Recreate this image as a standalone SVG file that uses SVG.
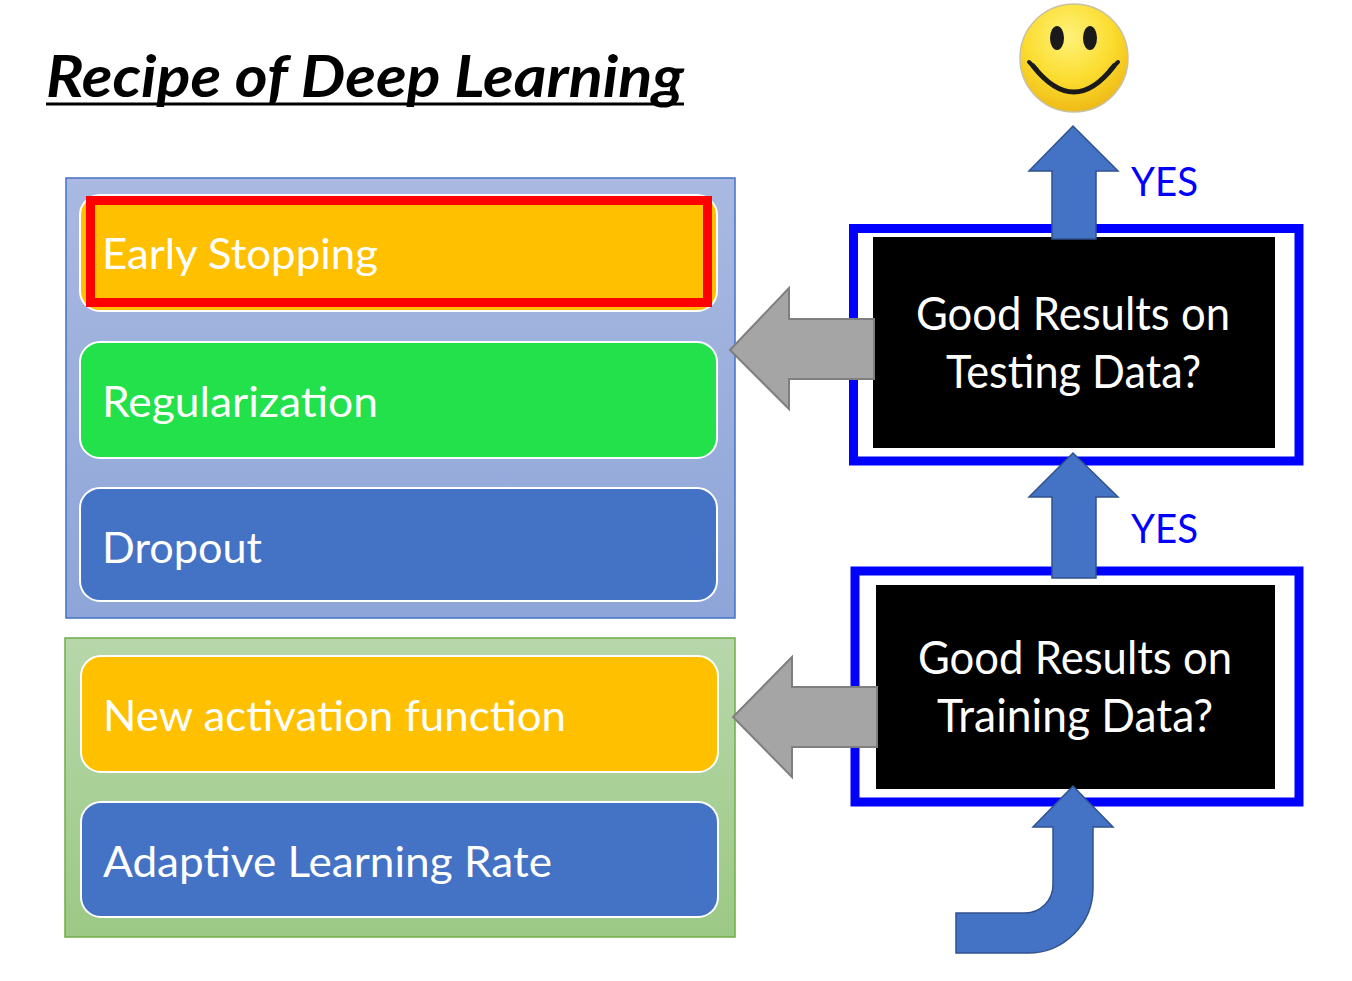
<svg xmlns="http://www.w3.org/2000/svg" width="1352" height="981" viewBox="0 0 1352 981">
  <defs>
    <linearGradient id="gBlue" x1="0" y1="0" x2="0" y2="1">
      <stop offset="0" stop-color="#a9b9e1"/>
      <stop offset="1" stop-color="#8da5d8"/>
    </linearGradient>
    <linearGradient id="gGreen" x1="0" y1="0" x2="0" y2="1">
      <stop offset="0" stop-color="#b7d7aa"/>
      <stop offset="1" stop-color="#9cc985"/>
    </linearGradient>
    <radialGradient id="gSmile" cx="0.45" cy="0.3" r="0.75">
      <stop offset="0" stop-color="#fff27a"/>
      <stop offset="0.55" stop-color="#fbdc2e"/>
      <stop offset="0.9" stop-color="#f0bd18"/>
      <stop offset="1" stop-color="#d9b040"/>
    </radialGradient>
    <style>
      .item { stroke: #ffffff; stroke-width: 2; }
      .itemText { font-family: Lato, "Open Sans", "Liberation Sans", sans-serif; font-size: 42px; fill: #ffffff; }
      .qText { font-family: Lato, "Open Sans", "Liberation Sans", sans-serif; font-size: 46px; fill: #ffffff; text-anchor: middle; }
      .yes { font-family: Lato, "Open Sans", "Liberation Sans", sans-serif; font-size: 40px; fill: #0000ff; }
      .frame { fill: #ffffff; stroke: #0000ff; stroke-width: 9; }
      .upArrow { fill: #4472c4; stroke: #2f528f; stroke-width: 1.5; }
      .grayArrow { fill: #a5a5a5; stroke: #7f7f7f; stroke-width: 2; }
    </style>
  </defs>

  <rect width="1352" height="981" fill="#ffffff"/>

  <g id="title">
    <text x="46" y="97" font-family="Lato, 'Open Sans', 'Liberation Sans', sans-serif" font-size="58" font-weight="bold" font-style="italic" fill="#000000" textLength="638" lengthAdjust="spacingAndGlyphs">Recipe of Deep Learning</text>
    <line x1="46" y1="104" x2="684" y2="104" stroke="#000000" stroke-width="3"/>
  </g>

  <g id="panel-testing">
    <rect x="66" y="178" width="669" height="440" fill="url(#gBlue)" stroke="#4472c4" stroke-width="1.5"/>
  </g>

  <g id="early-stopping">
    <rect class="item" x="80" y="195" width="637" height="116" rx="20" fill="#ffc000"/>
    <rect x="90.5" y="200.5" width="617" height="102" fill="none" stroke="#ff0000" stroke-width="9"/>
    <text class="itemText" x="102" y="269" textLength="276" lengthAdjust="spacingAndGlyphs">Early Stopping</text>
  </g>

  <g id="regularization">
    <rect class="item" x="80" y="342" width="637" height="116" rx="20" fill="#22e14a"/>
    <text class="itemText" x="102" y="417" textLength="276" lengthAdjust="spacingAndGlyphs">Regularization</text>
  </g>

  <g id="dropout">
    <rect class="item" x="80" y="488" width="637" height="113" rx="20" fill="#4472c4"/>
    <text class="itemText" x="102" y="563" textLength="160" lengthAdjust="spacingAndGlyphs">Dropout</text>
  </g>

  <g id="panel-training">
    <rect x="65" y="638" width="670" height="299" fill="url(#gGreen)" stroke="#70ad47" stroke-width="1.5"/>
  </g>

  <g id="new-activation">
    <rect class="item" x="81" y="656" width="637" height="116" rx="20" fill="#ffc000"/>
    <text class="itemText" x="103" y="731" textLength="463" lengthAdjust="spacingAndGlyphs">New activation function</text>
  </g>

  <g id="adaptive-lr">
    <rect class="item" x="81" y="802" width="637" height="115" rx="20" fill="#4472c4"/>
    <text class="itemText" x="103" y="877" textLength="449" lengthAdjust="spacingAndGlyphs">Adaptive Learning Rate</text>
  </g>

  <g id="testing-check">
    <rect class="frame" x="853.5" y="228.5" width="445.5" height="232.5"/>
    <rect x="873" y="237" width="402" height="211" fill="#000000"/>
    <text class="qText" x="1073" y="330" textLength="314" lengthAdjust="spacingAndGlyphs">Good Results on</text>
    <text class="qText" x="1073.5" y="388" textLength="255" lengthAdjust="spacingAndGlyphs">Testing Data?</text>
  </g>

  <g id="training-check">
    <rect class="frame" x="855" y="571" width="444" height="231"/>
    <rect x="876" y="585" width="399" height="204" fill="#000000"/>
    <text class="qText" x="1075" y="674" textLength="314" lengthAdjust="spacingAndGlyphs">Good Results on</text>
    <text class="qText" x="1075" y="732" textLength="276" lengthAdjust="spacingAndGlyphs">Training Data?</text>
  </g>

  <g id="smiley">
    <circle cx="1074" cy="58" r="54" fill="url(#gSmile)" stroke="#c9c2a0" stroke-width="1.5"/>
    <ellipse cx="1057" cy="38" rx="7" ry="12" fill="#1a1a1a"/>
    <ellipse cx="1090" cy="38" rx="7" ry="12" fill="#1a1a1a"/>
    <path d="M1033,66 Q1074,118 1114,66" fill="none" stroke="#1a1a1a" stroke-width="5" stroke-linecap="round"/>
    <path d="M1029,62 L1037,70 M1118,62 L1110,70" fill="none" stroke="#1a1a1a" stroke-width="4" stroke-linecap="round"/>
  </g>

  <g id="labels">
    <text class="yes" x="1131" y="196" textLength="67" lengthAdjust="spacingAndGlyphs">YES</text>
    <text class="yes" x="1131" y="543" textLength="67" lengthAdjust="spacingAndGlyphs">YES</text>
  </g>

  <g id="connectors">
    <path class="upArrow" d="M1052,239 L1052,171 L1029,171 L1073,126 L1118,171 L1096,171 L1096,239 Z"/>
    <path class="upArrow" d="M1052,578 L1052,497 L1029,497 L1073,453 L1118,497 L1096,497 L1096,578 Z"/>
    <path class="upArrow" d="M956,913 L1025,913 A28,28 0 0 0 1053,885 L1053,827 L1033,827 L1073,786 L1113,827 L1093,827 L1093,888 A65,65 0 0 1 1028,953 L956,953 Z"/>
    <path class="grayArrow" d="M874,319 L789,319 L789,288 L730,350 L789,409 L789,379 L874,379 Z"/>
    <path class="grayArrow" d="M877,687 L792,687 L792,657 L733,717 L792,777 L792,747 L877,747 Z"/>
  </g>
</svg>
